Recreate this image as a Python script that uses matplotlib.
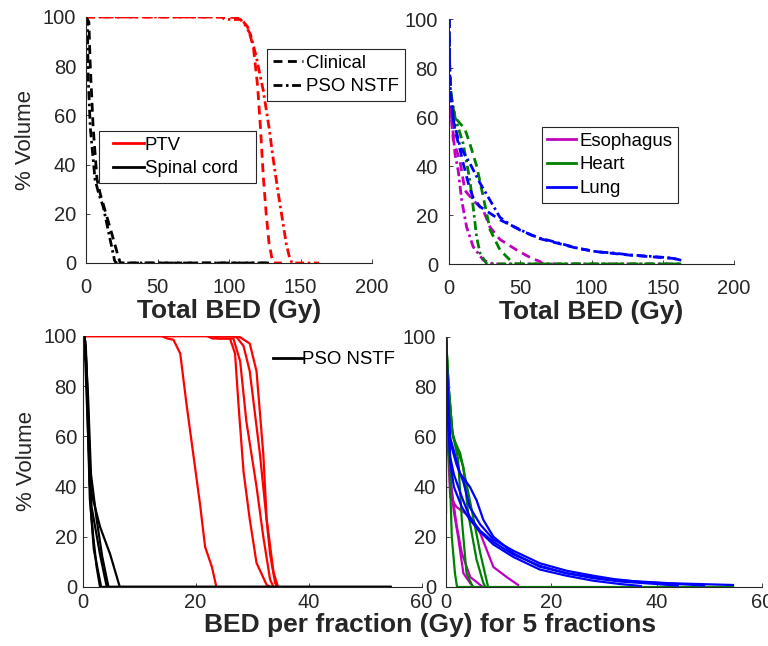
import matplotlib
matplotlib.use("Agg")
import matplotlib.pyplot as plt
from matplotlib.lines import Line2D
from matplotlib.legend_handler import HandlerLine2D

plt.rcParams['font.family'] = ['Liberation Sans', 'DejaVu Sans']

# ---------------- data: top-left (Total BED, PTV & spinal cord) ----------------
ptv_clin_x = [0, 100, 108, 113, 117, 120, 122, 124, 126, 128, 130, 131, 137]
ptv_clin_y = [100, 100, 99.5, 96, 88, 72, 55, 35, 20, 8, 2, 0, 0]
ptv_pso_x = [0, 95, 97, 108, 111, 115, 119, 124, 128, 131, 134, 137, 140, 142, 144, 163]
ptv_pso_y = [100, 100, 99, 99, 97, 93, 84, 70, 55, 42, 30, 19, 8, 3, 0, 0]
cord_clin_x = [0, 2, 3, 5, 7.7, 10, 14.5, 18, 22.6, 24, 130]
cord_clin_y = [100, 98, 80, 55, 34, 28, 19, 12, 2.5, 0, 0]
cord_pso_x = [0, 1, 1.5, 3, 6.3, 9, 12, 16, 20, 21, 128]
cord_pso_y = [100, 98, 76, 55, 34, 28, 23, 12, 1, 0, 0]

# ---------------- data: top-right (Total BED, OARs) ----------------
eso_pso_x = [0, 0.3, 0.7, 3, 4.2, 6.5, 8.9, 12.4, 17, 24, 31, 163]
eso_pso_y = [100, 80, 65.7, 53, 45, 38, 26, 15, 7, 1.6, 0, 0]
eso_clin_x = [0, 0.5, 1.5, 3, 7.7, 11.2, 17, 24, 28.8, 35.8, 47.5, 58, 64, 66]
eso_clin_y = [100, 75, 60, 50.6, 42, 30, 26, 22, 15, 10, 5.7, 2.3, 1, 0]
heart_pso_x = [0, 0.3, 0.7, 4.2, 10, 14.7, 17, 19.4, 21.8, 26.5, 163]
heart_pso_y = [100, 85, 72, 60, 49, 34, 23, 11, 4.4, 0, 0]
heart_clin_x = [0, 0.5, 2, 5.4, 11.2, 14.7, 19.4, 24, 28.8, 35.8, 42.8, 47, 163]
heart_clin_y = [100, 80, 65, 59, 55, 49, 40, 27.5, 14, 5.7, 1.6, 0, 0]
lung_pso_x = [0, 0.3, 0.7, 3, 7.7, 14.7, 21.8, 28.8, 35.8, 43, 50, 57, 64, 71, 78,
              90, 103.6, 115, 127, 140, 157, 163]
lung_pso_y = [100, 85, 72, 59, 48, 41, 33, 26, 19, 16, 14, 12, 10.5, 9.5, 8.4,
              6.5, 5, 4.5, 3.7, 3.2, 2.4, 1.5]
lung_clin_x = [0, 0.3, 1, 4, 8, 10, 14, 17, 21.8, 28.8, 35.8, 43, 50, 64, 78,
               90, 104, 127, 157, 163]
lung_clin_y = [100, 85, 70, 55, 46, 41, 32, 27, 23.4, 20.7, 18, 16, 13.8, 10.3, 8.2,
               6.4, 5, 3.6, 2.3, 1.5]

# ---------------- data: bottom-left (BED per fraction, PTV & cord) ----------------
ptv_frac_x = [
    [0, 14, 15, 16.1, 17.3, 18.4, 19.6, 20.8, 21.7, 22.9, 23.7],
    [0, 22, 23, 26.1, 27.0, 27.6, 28.5, 29.6, 30.8, 32.6, 33.3],
    [0, 23, 24, 26.7, 27.9, 29.0, 30.8, 32.0, 33.2, 33.8],
    [0, 26, 27.3, 28.5, 29.6, 31.4, 32.3, 33.2, 34.1, 34.5],
    [0, 27, 27.9, 29.6, 30.8, 32.0, 32.6, 33.8, 34.6],
]
ptv_frac_y = [
    [100, 100, 99, 98.5, 93, 73, 53, 33, 16, 8, 0],
    [100, 100, 99, 99, 93, 73, 46, 27, 9.6, 0.8, 0],
    [100, 100, 99, 99, 90, 66, 40, 20, 3, 0],
    [100, 100, 99.5, 96, 86, 53, 33, 13, 1.5, 0],
    [100, 100, 99.5, 97, 86, 53, 27, 6, 0],
]
cord_frac_x = [
    [0, 0, 0.4, 0.7, 1.0, 1.3, 1.9, 2.5, 3.1, 54.5],
    [0, 0.5, 0.8, 1.0, 1.6, 3.1, 4.3, 54.5],
    [0, 0.5, 1.0, 1.5, 2.5, 3.5, 4.6, 54.5],
    [0, 0.6, 1.0, 1.3, 3.1, 4.9, 6.6, 54.5],
    [0, 0.5, 1.0, 1.5, 2.0, 3.3, 54.5],
]
cord_frac_y = [
    [30, 100, 100, 85, 60, 35, 20, 8, 0, 0],
    [100, 98, 80, 67, 32, 13, 0, 0],
    [100, 97, 75, 45, 27, 12, 0, 0],
    [100, 95, 70, 40, 24, 13, 0, 0],
    [100, 90, 60, 30, 15, 0, 0],
]

# ---------------- data: bottom-right (BED per fraction, OARs) ----------------
eso_frac_x = [
    [0, 0.3, 0.8, 2.0, 3.3, 4.6, 6.5, 7.7, 9.0, 11.5, 13.7],
    [0, 0.3, 1.0, 1.5, 2.3, 3.3, 4.6, 5.2],
    [0, 0.3, 1.0, 2.0, 3.0, 4.6, 6.5, 7.0],
]
eso_frac_y = [
    [100, 60, 36, 32, 30, 28, 21.5, 15, 8, 4, 0.8],
    [100, 60, 40, 30, 20, 5.5, 1.5, 0],
    [100, 60, 40, 25, 13.6, 4, 0.8, 0],
]
heart_frac_x = [
    [0, 0.2, 0.4, 1.1, 1.7, 2.1, 54.5],
    [0, 0.5, 1.2, 2.3, 3.0, 3.9, 5.1],
    [0, 0.5, 1.2, 2.0, 3.3, 4.2, 5.8, 7.1, 7.5],
    [0, 0.5, 1.3, 2.7, 4.5, 6.5, 8.0],
]
heart_frac_y = [
    [100, 85, 67, 20, 5.5, 0, 0],
    [100, 80, 62, 51, 27, 5.5, 0],
    [100, 80, 62, 56, 48, 29.5, 11, 1.5, 0],
    [100, 80, 60, 53.5, 35, 13.6, 0],
]
lung_frac_x = [
    [0, 0, 0.3, 0.76, 2.66, 4.55, 5.8, 7.1, 9.0, 12.8, 17.8, 22.9, 31.8, 42.5, 54.5],
    [0, 0.3, 0.8, 2.0, 3.3, 4.5, 6.5, 9, 12.8, 17.8, 22.9, 28, 31.8, 37, 44, 49],
    [0, 0.3, 0.8, 1.5, 3, 4.5, 6.5, 9, 12.8, 17.8, 22.9, 28, 33, 37],
    [0, 0.3, 0.8, 1.5, 3, 4.5, 6.5, 9, 12.8, 17.8, 22.9, 28, 33, 40, 44],
]
lung_frac_y = [
    [30, 100, 80, 60, 45.5, 40, 34.7, 26.8, 20.1, 13.5, 8.1, 5.5, 2.8, 1.5, 0.8],
    [100, 80, 58, 49, 42, 32, 25, 19, 14.5, 9.5, 6.5, 4.5, 3.2, 2.0, 1.2, 0.6],
    [100, 75, 50, 40, 32, 27, 22, 17, 12, 7, 4.5, 2.5, 1.2, 0.4],
    [100, 70, 52, 45, 36, 28, 22.5, 18, 13, 8.5, 5.5, 3.5, 2.2, 1.2, 0.5],
]

xticks_total = [0, 50, 100, 150, 200]
xticks_frac = [0, 20, 40, 60]
yticks = [0, 20, 40, 60, 80, 100]

RED = (1, 0, 0)
BLACK = (0, 0, 0)
MAG = (0.75, 0, 0.75)
GREEN = (0, 0.5, 0)
BLUE = (0, 0, 1)
AXC = '#262626'
DASH = (0, (3.2, 2.0))
DASHDOT = (0, (3.2, 1.3, 0.9, 1.3))
TICK_FS = 14.5
LEG_FS = 13.4
LAB_FS = 19

fig = plt.figure(figsize=(7.68, 6.46), dpi=100)
W, H = 768, 646


def add_ax(l, r, t, b):
    return fig.add_axes([l / W, 1 - b / H, (r - l) / W, (b - t) / H])


def style(ax, xmax, xt, xpad, ypad, ylabel=True):
    ax.set_xlim(0, xmax)
    ax.set_ylim(0, 100)
    ax.set_xticks(xt)
    ax.set_yticks(yticks)
    for s in ['top', 'right']:
        ax.spines[s].set_visible(False)
    for s in ['left', 'bottom']:
        ax.spines[s].set_color(AXC)
        ax.spines[s].set_linewidth(0.8)
    ax.tick_params(direction='in', length=3, width=0.6, colors=AXC,
                   labelsize=TICK_FS, labelcolor=AXC)
    ax.tick_params(axis='x', pad=xpad)
    ax.tick_params(axis='y', pad=ypad)
    if ylabel:
        ax.set_ylabel('% Volume', fontsize=16, color=AXC, labelpad=5)


def legend_box(ax, handles, labels, anchor, xpad=0.0, width=None, hl=1.6, htp=0.15):
    bbox = anchor if width is None else (anchor[0], anchor[1], width, 0.0)
    kw = {} if width is None else {'mode': 'expand'}
    hmap = {h: HandlerLine2D(xpad=xpad) for h in handles}
    leg = ax.legend(handles, labels, loc='lower left', bbox_to_anchor=bbox,
                    fontsize=LEG_FS, frameon=True, fancybox=False, framealpha=1,
                    edgecolor=AXC, handlelength=hl + xpad, handletextpad=htp,
                    borderpad=0.3, labelspacing=0.37, borderaxespad=0,
                    handler_map=hmap, **kw)
    leg.get_frame().set_linewidth(0.8)
    for t in leg.get_texts():
        t.set_color(BLACK)
    return leg


# ---- top-left ----
ax1 = add_ax(86, 372, 17, 263)
ax1.plot(ptv_clin_x, ptv_clin_y, color=RED, lw=2, linestyle=DASH)
ax1.plot(ptv_pso_x, ptv_pso_y, color=RED, lw=2, linestyle=DASHDOT)
ax1.plot(cord_clin_x, cord_clin_y, color=BLACK, lw=2, linestyle=DASH)
ax1.plot(cord_pso_x, cord_pso_y, color=BLACK, lw=2, linestyle=DASHDOT)
style(ax1, 200, xticks_total, xpad=11, ypad=7)
ax1.set_xlabel('Total BED (Gy)', fontsize=LAB_FS, fontweight='bold', color=AXC, labelpad=1)
l1 = legend_box(ax1, [Line2D([], [], color=RED, lw=2), Line2D([], [], color=BLACK, lw=2)],
                ['PTV', 'Spinal cord'], (0.0455, 0.325), xpad=0.45, width=0.549,
                hl=1.65, htp=0.05)
ax1.add_artist(l1)
l2 = legend_box(ax1, [Line2D([], [], color=BLACK, lw=2, linestyle=DASH),
                      Line2D([], [], color=BLACK, lw=2, linestyle=DASHDOT)],
                ['Clinical', 'PSO NSTF'], (0.633, 0.6585), xpad=0.0, hl=1.65)
l2.set_clip_on(False)

# ---- top-right ----
ax2 = add_ax(449, 734, 19, 264)
ax2.plot(eso_clin_x, eso_clin_y, color=MAG, lw=2, linestyle=DASH)
ax2.plot(eso_pso_x, eso_pso_y, color=MAG, lw=2, linestyle=DASHDOT)
ax2.plot(heart_clin_x, heart_clin_y, color=GREEN, lw=2, linestyle=DASH)
ax2.plot(heart_pso_x, heart_pso_y, color=GREEN, lw=2, linestyle=DASHDOT)
ax2.plot(lung_clin_x, lung_clin_y, color=BLUE, lw=2, linestyle=DASH)
ax2.plot(lung_pso_x, lung_pso_y, color=BLUE, lw=2, linestyle=DASHDOT)
style(ax2, 200, xticks_total, xpad=11, ypad=8, ylabel=False)
ax2.set_xlabel('Total BED (Gy)', fontsize=LAB_FS, fontweight='bold', color=AXC, labelpad=1)
legend_box(ax2, [Line2D([], [], color=MAG, lw=2), Line2D([], [], color=GREEN, lw=2),
                 Line2D([], [], color=BLUE, lw=2)],
           ['Esophagus', 'Heart', 'Lung'], (0.326, 0.249), xpad=0.0, hl=1.55)

# ---- bottom-left ----
ax3 = add_ax(82.5, 421.5, 336, 587)
for xs, ys in zip(ptv_frac_x, ptv_frac_y):
    ax3.plot(xs, ys, color=RED, lw=1.6)
for xs, ys in zip(cord_frac_x, cord_frac_y):
    ax3.plot(xs, ys, color=BLACK, lw=1.6)
style(ax3, 60, xticks_frac, xpad=4, ypad=4)
leg3 = ax3.legend([Line2D([], [], color=BLACK, lw=2)], ['PSO NSTF'], loc='upper left',
                  bbox_to_anchor=(0.562, 0.94), frameon=False, fontsize=LEG_FS,
                  handlelength=1.55, handletextpad=0.0, borderaxespad=0, borderpad=0)
for t in leg3.get_texts():
    t.set_color(BLACK)

# ---- bottom-right ----
ax4 = add_ax(446, 762, 337, 587)
for xs, ys in zip(eso_frac_x, eso_frac_y):
    ax4.plot(xs, ys, color=MAG, lw=1.6)
for xs, ys in zip(heart_frac_x, heart_frac_y):
    ax4.plot(xs, ys, color=GREEN, lw=1.6)
for xs, ys in zip(lung_frac_x, lung_frac_y):
    ax4.plot(xs, ys, color=BLUE, lw=1.6)
style(ax4, 60, xticks_frac, xpad=4, ypad=7, ylabel=False)

fig.text(430 / W, 1 - 625 / H, 'BED per fraction (Gy) for 5 fractions', ha='center',
         va='center', fontsize=LAB_FS, fontweight='bold', color=AXC)

fig.savefig('out.png', dpi=100)
